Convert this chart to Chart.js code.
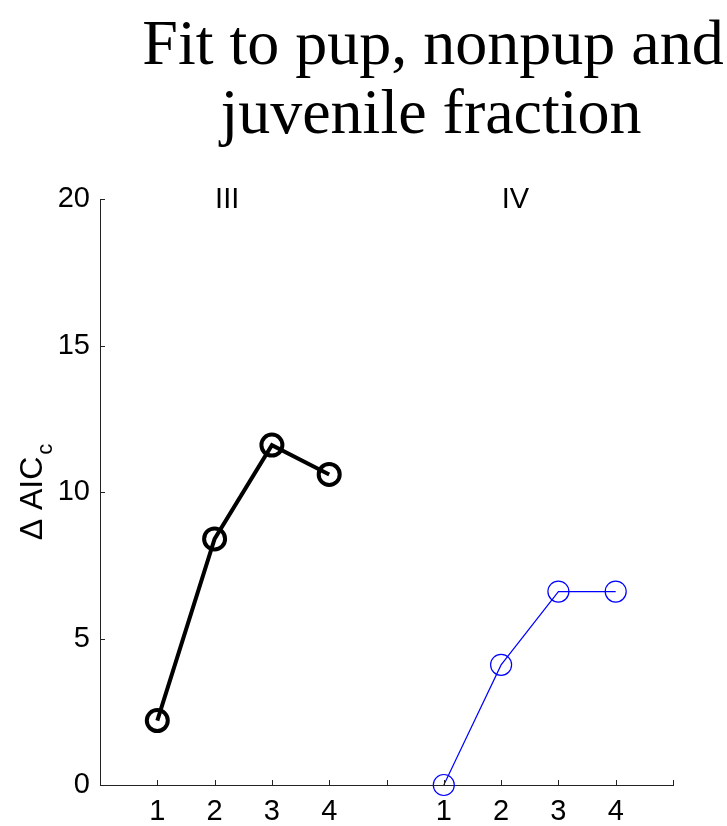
<!DOCTYPE html>
<html>
<head>
<meta charset="utf-8">
<script src="https://cdn.jsdelivr.net/npm/chart.js@4/dist/chart.umd.min.js"></script>
<style>
  html, body { margin: 0; padding: 0; background: #fff; }
</style>
</head>
<body>
<canvas id="chart" width="727" height="826"></canvas>
<script>
// title and axis texts
const titleLines = ['Fit to pup, nonpup and', 'juvenile fraction'];
const yLabelMain = '\u0394 AIC';
const yLabelSub = 'c';

// two groups of models drawn on one shared x axis (1-4 and 6-9)
const groupNames = ['III', 'IV'];
const groupNamePos = [2.22, 7.25];
const xTickLabels = ['', '1', '2', '3', '4', '', '1', '2', '3', '4', ''];
const yTicks = [0, 5, 10, 15, 20];

// series values
const modelsIII = [1, 2, 3, 4];
const aicIII = [2.2, 8.4, 11.6, 10.6];
const modelsIV = [6, 7, 8, 9];
const aicIV = [0, 4.1, 6.6, 6.6];

const SANS = '"Liberation Sans", Arial, sans-serif';
const SERIF = '"Liberation Serif", "Times New Roman", serif';

const toPoints = (xs, ys) => xs.map((x, i) => ({ x: x, y: ys[i] }));

/** draws title, y label, group names and inward tick marks */
const decorations = {
  id: 'decorations',
  afterDraw(chart) {
    const ctx = chart.ctx;
    const xs = chart.scales.x;
    const ys = chart.scales.y;
    const area = chart.chartArea;
    ctx.save();
    ctx.fillStyle = '#000';

    // title
    ctx.font = '64px ' + SERIF;
    ctx.textAlign = 'center';
    ctx.textBaseline = 'alphabetic';
    ctx.fillText(titleLines[0], 433, 64);
    ctx.fillText(titleLines[1], 431, 133);

    // group names
    ctx.font = '29px ' + SANS;
    groupNames.forEach((name, i) => {
      ctx.fillText(name, xs.getPixelForValue(groupNamePos[i]), 208);
    });

    // y label with subscript
    ctx.save();
    ctx.translate(42, (area.top + area.bottom) / 2);
    ctx.rotate(-Math.PI / 2);
    ctx.font = '32px ' + SANS;
    const mainW = ctx.measureText(yLabelMain).width;
    ctx.font = '22px ' + SANS;
    const subW = ctx.measureText(yLabelSub).width;
    const start = -(mainW + subW + 2) / 2;
    ctx.textAlign = 'left';
    ctx.font = '32px ' + SANS;
    ctx.fillText(yLabelMain, start, 0);
    ctx.font = '22px ' + SANS;
    ctx.fillText(yLabelSub, start + mainW + 2, 10);
    ctx.restore();

    // inward tick marks
    ctx.strokeStyle = '#222';
    ctx.lineWidth = 1;
    ctx.beginPath();
    yTicks.forEach((v) => {
      const py = Math.round(ys.getPixelForValue(v)) + 0.5;
      ctx.moveTo(area.left, py);
      ctx.lineTo(area.left + 5, py);
    });
    for (let v = 1; v < xTickLabels.length; v++) {
      const px = Math.round(xs.getPixelForValue(v)) + 0.5;
      ctx.moveTo(px, area.bottom);
      ctx.lineTo(px, area.bottom - 5);
    }
    ctx.stroke();
    ctx.restore();
  }
};

new Chart(document.getElementById('chart'), {
  type: 'scatter',
  data: {
    datasets: [{
      label: 'III',
      data: toPoints(modelsIII, aicIII),
      showLine: true,
      borderColor: '#000',
      borderWidth: 4,
      pointRadius: 10.5,
      pointBorderWidth: 4,
      pointBorderColor: '#000',
      pointBackgroundColor: 'rgba(0,0,0,0)',
      clip: false
    }, {
      label: 'IV',
      data: toPoints(modelsIV, aicIV),
      showLine: true,
      borderColor: '#0000ff',
      borderWidth: 1.2,
      pointRadius: 10.5,
      pointBorderWidth: 1.2,
      pointBorderColor: '#0000ff',
      pointBackgroundColor: 'rgba(0,0,0,0)',
      clip: false
    }]
  },
  options: {
    responsive: false,
    animation: false,
    events: [],
    layout: { padding: { top: 199, right: 54, left: 0, bottom: 0 } },
    plugins: {
      legend: { display: false },
      tooltip: { enabled: false },
      title: { display: false }
    },
    scales: {
      x: {
        type: 'linear',
        min: 0,
        max: 10,
        afterFit: (scale) => { scale.height = 41; },
        grid: { display: false, drawTicks: false },
        border: { display: true, color: '#222', width: 1 },
        ticks: {
          stepSize: 1,
          autoSkip: false,
          maxRotation: 0,
          padding: 10,
          color: '#000',
          font: { family: SANS, size: 29 },
          callback: (v) => xTickLabels[v] ?? ''
        }
      },
      y: {
        min: 0,
        max: 20,
        afterFit: (scale) => { scale.width = 100; },
        grid: { display: false, drawTicks: false },
        border: { display: true, color: '#222', width: 1 },
        ticks: {
          stepSize: 5,
          padding: 10,
          color: '#000',
          font: { family: SANS, size: 29 }
        }
      }
    }
  },
  plugins: [decorations]
});
</script>
</body>
</html>
